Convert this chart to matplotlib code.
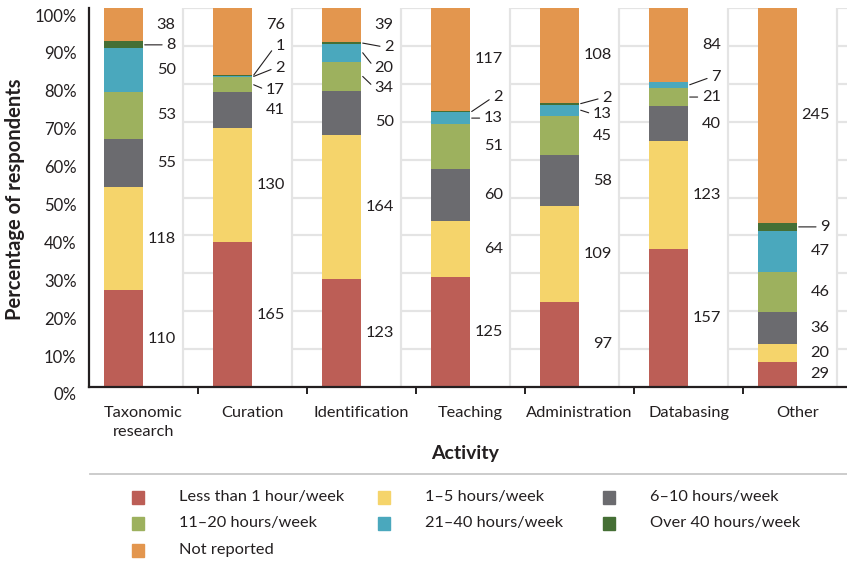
import matplotlib.pyplot as plt
from matplotlib.patches import Rectangle
from matplotlib.lines import Line2D
import matplotlib.transforms as mtransforms
import numpy as np

plt.rcParams['font.family'] = ['Lato', 'DejaVu Sans']

activities = ['Taxonomic\nresearch', 'Curation', 'Identification', 'Teaching',
              'Administration', 'Databasing', 'Other']
series_names = ['Less than 1 hour/week', '1\u20135 hours/week', '6\u201310 hours/week',
                '11\u201320 hours/week', '21\u201340 hours/week', 'Over 40 hours/week',
                'Not reported']
colors = ['#bc5e56', '#f5d46b', '#6b6b6f', '#9db15e', '#4aa8bd', '#456f35', '#e3964e']

less_1 = [110, 165, 123, 125, 97, 157, 29]
h1_5 = [118, 130, 164, 64, 109, 123, 20]
h6_10 = [55, 41, 50, 60, 58, 40, 36]
h11_20 = [53, 17, 34, 51, 45, 21, 46]
h21_40 = [50, 2, 20, 13, 13, 7, 47]
over_40 = [8, 1, 2, 2, 2, 0, 9]
not_reported = [38, 76, 39, 117, 108, 84, 245]

counts = np.array([less_1, h1_5, h6_10, h11_20, h21_40, over_40, not_reported], dtype=float)
pct = counts / counts.sum(axis=0) * 100

# labels drawn with a leader line: (activity, series) -> label height in % (None = segment middle)
leader = {(0, 5): None,
          (1, 5): 90.0, (1, 4): 84.2, (1, 3): 78.4,
          (2, 5): 89.7, (2, 4): 84.2, (2, 3): 78.9,
          (3, 5): 76.5, (3, 4): None,
          (4, 5): 76.3, (4, 4): 72.0,
          (5, 4): 81.8, (5, 3): None,
          (6, 5): None}
# plain labels moved away from the segment middle
shifted = {(2, 2): 69.9, (1, 6): 95.5}

text_col = '#231f20'
grid_col = '#e4e4e4'
fs = 11.8

fig = plt.figure(figsize=(8.47, 5.64), dpi=100)
W, H = 847, 564
ax = fig.add_axes([89 / W, 1 - 387 / H, 763 / W, 379 / H])

n = len(activities)
bar_off, bar_w = 0.138, 0.358
gx = 0.862
xs = np.arange(n) + bar_off + bar_w / 2

# grid pieces (hidden behind label columns in the original)
for k in range(n):
    ax.axvline(k + gx, color=grid_col, lw=1.6, zorder=0)
    ax.hlines(np.arange(10, 101, 10), k + gx, min(k + 1 + bar_off, n),
              color=grid_col, lw=1.6, zorder=0)

bottom = np.zeros(n)
for i, vals in enumerate(pct):
    ax.bar(xs, vals, bar_w, bottom=bottom, color=colors[i], zorder=2)
    mids = bottom + vals / 2
    for k in range(n):
        if counts[i, k] == 0:
            continue
        lab = str(int(counts[i, k]))
        tx = k + 0.795
        if (k, i) in leader:
            ty = leader[(k, i)] if leader[(k, i)] is not None else mids[k]
            ax.annotate(lab, xy=(k + bar_off + bar_w + 0.015, mids[k]), xytext=(tx, ty),
                        ha='right', va='center', fontsize=fs, color=text_col,
                        arrowprops=dict(arrowstyle='-', lw=0.8, color=text_col,
                                        shrinkA=1, shrinkB=0, relpos=(0, 0.5)))
        else:
            ty = shifted.get((k, i), mids[k])
            ax.text(tx, ty, lab, ha='right', va='center', fontsize=fs, color=text_col)
    bottom += vals

ax.set_xlim(0, n)
ax.set_ylim(0, 100)
for s in ['top', 'right']:
    ax.spines[s].set_visible(False)
for s in ['left', 'bottom']:
    ax.spines[s].set_linewidth(1.6)
    ax.spines[s].set_color(text_col)

ax.set_xticks(np.arange(1, n))
ax.set_xticklabels([])
ax.tick_params(axis='x', which='major', length=5, width=1.4, color=text_col)
ax.set_xticks(np.arange(n) + 0.5, minor=True)
ax.set_xticklabels(activities, minor=True, fontsize=fs, color=text_col, linespacing=1.45)
ax.tick_params(axis='x', which='minor', length=0, pad=14)

ax.set_yticks(np.arange(0, 101, 10))
ax.set_yticklabels([f'{v}%' for v in range(0, 101, 10)], fontsize=12, color=text_col)
ax.tick_params(axis='y', length=0, pad=9)
for t in ax.get_yticklabels():
    t.set_transform(t.get_transform() + mtransforms.ScaledTranslation(0, -7 / 100, fig.dpi_scale_trans))

fig.text(15 / W, 1 - 199 / H, 'Percentage of respondents', rotation=90, ha='center', va='center',
         fontsize=14.5, fontweight='bold', color=text_col)
fig.text(465 / W, 1 - 453 / H, 'Activity', ha='center', va='center',
         fontsize=14, fontweight='bold', color=text_col)

# legend
fig.add_artist(Line2D([90 / W, 1], [1 - 474 / H] * 2, color='#c8c8c8', lw=1.3))
col_x = [132, 378, 603]
row_y = [497, 523, 550]
for j, name in enumerate(series_names):
    r, c = divmod(j, 3)
    x0, y0 = col_x[c], row_y[r]
    fig.add_artist(Rectangle((x0 / W, 1 - (y0 + 6.5) / H), 12 / W, 13 / H,
                             color=colors[j], transform=fig.transFigure))
    fig.text((x0 + 47) / W, 1 - y0 / H, name, ha='left', va='center', fontsize=fs, color=text_col)

fig.savefig('out.png', dpi=100)
